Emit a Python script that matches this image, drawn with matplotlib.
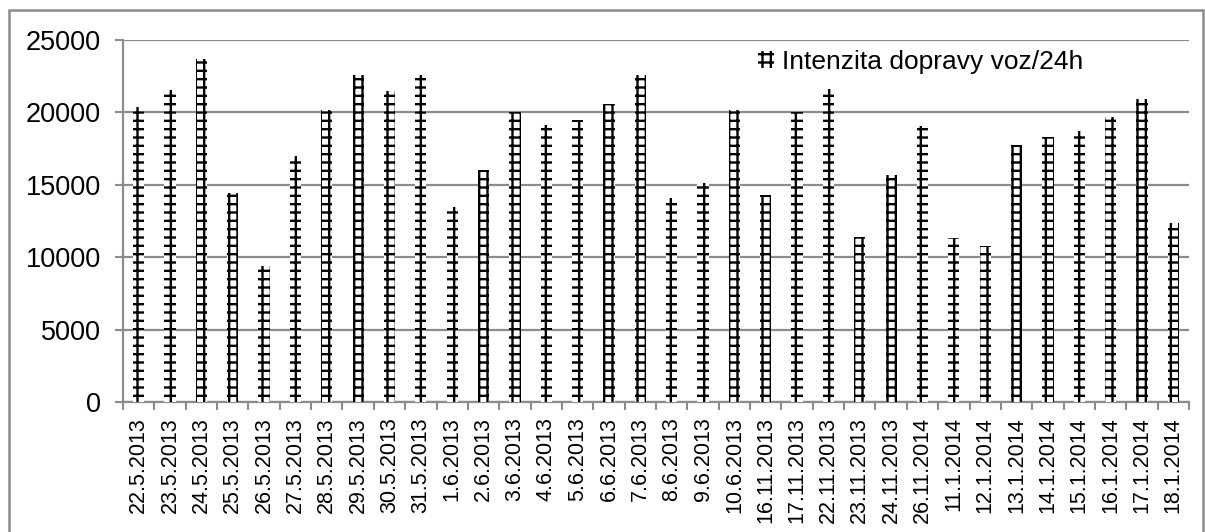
import matplotlib
matplotlib.use("Agg")
import matplotlib.pyplot as plt
from matplotlib.patches import Rectangle
import numpy as np

dates = ["22.5.2013", "23.5.2013", "24.5.2013", "25.5.2013", "26.5.2013", "27.5.2013",
         "28.5.2013", "29.5.2013", "30.5.2013", "31.5.2013", "1.6.2013", "2.6.2013",
         "3.6.2013", "4.6.2013", "5.6.2013", "6.6.2013", "7.6.2013", "8.6.2013",
         "9.6.2013", "10.6.2013", "16.11.2013", "17.11.2013", "22.11.2013", "23.11.2013",
         "24.11.2013", "26.11.2014", "11.1.2014", "12.1.2014", "13.1.2014", "14.1.2014",
         "15.1.2014", "16.1.2014", "17.1.2014", "18.1.2014"]
intensity = [20400, 21550, 23700, 14400, 9400, 17000,
             20150, 22550, 21500, 22550, 13450, 16050,
             20000, 19100, 19500, 20550, 22600, 14100,
             15150, 20150, 14300, 20000, 21600, 11400,
             15650, 19050, 11350, 10750, 17750, 18300,
             18700, 19700, 20900, 12350]
series_name = "Intenzita dopravy voz/24h"
yticks = [0, 5000, 10000, 15000, 20000, 25000]

plt.rcParams['font.family'] = ['Liberation Sans', 'DejaVu Sans']
plt.rcParams['hatch.linewidth'] = 1.7

W, H = 1205, 532
fig = plt.figure(figsize=(W / 100, H / 100), dpi=100)
ax = fig.add_axes([123 / W, 1 - 402 / H, (1189 - 123) / W, (402 - 40) / H])

grey = "#8c8c8c"
x = np.arange(len(dates))
ax.bar(x, intensity, width=0.36, color="white", edgecolor="black", linewidth=0,
       hatch="++", label=series_name, zorder=3)

ax.set_xlim(-0.5, len(dates) - 0.5)
ax.set_ylim(0, 25000)
ax.set_yticks(yticks)
ax.set_yticklabels([str(v) for v in yticks], fontsize=19.5)
ax.yaxis.grid(True, color=grey, linewidth=1.6, zorder=0)
ax.set_axisbelow(True)

ax.set_xticks(x)
ax.set_xticklabels(dates, rotation=90, fontsize=15.5)
ax.set_xticks(np.arange(len(dates) + 1) - 0.5, minor=True)
ax.tick_params(axis="x", which="major", length=0, pad=11)
ax.tick_params(axis="x", which="minor", length=6, color=grey, width=1.5, direction="out")
ax.tick_params(axis="y", length=6, color=grey, width=1.5, direction="out", pad=10)

for s in ["top", "right"]:
    ax.spines[s].set_visible(False)
for s in ["left", "bottom"]:
    ax.spines[s].set_color(grey)
    ax.spines[s].set_linewidth(1.6)

leg = ax.legend(loc="center left", bbox_to_anchor=((758 - 123) / (1189 - 123), (402 - 62) / (402 - 40)),
                frameon=False, fontsize=19, handlelength=0.6, handleheight=0.6,
                handletextpad=0.3, borderaxespad=0.0, borderpad=0.0)

fig.patches.append(Rectangle((9 / W, -0.1), (1203 - 9) / W, 1.1 - 10 / H,
                             transform=fig.transFigure, fill=False,
                             edgecolor=grey, linewidth=1.8, clip_on=False))

fig.savefig("out.png", dpi=100)
